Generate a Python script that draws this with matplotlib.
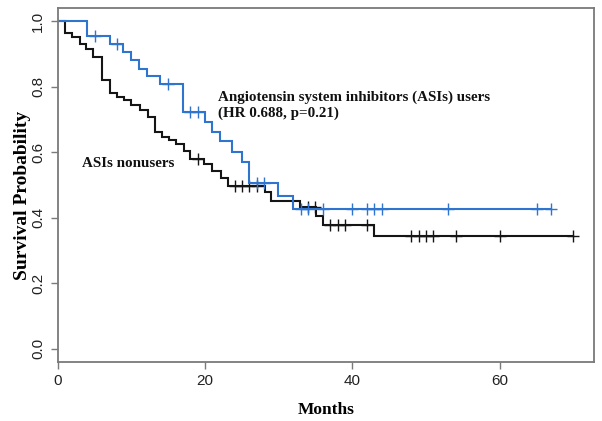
import numpy as np
import matplotlib
matplotlib.use('Agg')
import matplotlib.pyplot as plt

# ASI users (blue)
users_times = [0, 4.0, 7.1, 8.9, 10.0, 11.1, 12.1, 13.9, 17.0, 20.0, 21.0, 22.0, 23.7, 25.0, 26.0, 29.9, 32.0]
users_surv = [1.0, 0.954, 0.932, 0.906, 0.881, 0.856, 0.832, 0.808, 0.724, 0.694, 0.663, 0.633, 0.602, 0.571, 0.505, 0.466, 0.427]
users_censor = [5.0, 8.0, 15.0, 18.0, 19.0, 27.0, 28.0, 33.0, 34.0, 36.0, 40.0, 42.0, 43.0, 44.0, 53.0, 65.0, 67.0]

# ASI nonusers (black)
non_times = [0, 1.0, 1.9, 3.0, 3.8, 4.8, 6.0, 7.1, 8.0, 9.0, 10.0, 11.2, 12.3, 13.2, 14.2, 15.1, 16.1,
             17.1, 18.0, 19.8, 21.0, 22.1, 23.1, 28.1, 29.0, 32.9, 35.0, 36.0, 43.0]
non_surv = [1.0, 0.966, 0.952, 0.932, 0.917, 0.891, 0.82, 0.78, 0.769, 0.759, 0.744, 0.729, 0.708, 0.662,
            0.647, 0.637, 0.625, 0.605, 0.58, 0.563, 0.543, 0.522, 0.497, 0.478, 0.452, 0.432, 0.406, 0.378, 0.345]
non_censor = [19.0, 24.0, 25.0, 26.0, 27.0, 34.0, 34.9, 37.0, 38.0, 39.0, 42.0, 48.0, 49.0, 50.0, 51.0,
              54.0, 60.0, 70.0]

x_ticks = [0, 20, 40, 60]
y_ticks = [0.0, 0.2, 0.4, 0.6, 0.8, 1.0]

label_users = "Angiotensin system inhibitors (ASIs) users\n(HR 0.688, p=0.21)"
label_non = "ASIs nonusers"

BLUE = '#2f74cf'
BLACK = '#151515'
SPINE = '#7a7a7a'

fig = plt.figure(figsize=(6.02, 4.21), dpi=100)
ax = fig.add_axes([0.0959, 0.1409, 0.8908, 0.8394])


def km_draw(times, surv, censor, color):
    t_end = max(max(times), max(censor))
    xs = list(times) + [t_end]
    ys = list(surv) + [surv[-1]]
    ax.step(xs, ys, where='post', color=color, lw=1.5, solid_joinstyle='miter')
    t_arr = np.array(times)
    s_arr = np.array(surv)
    idx = np.searchsorted(t_arr, np.array(censor), side='right') - 1
    ax.plot(censor, s_arr[idx], linestyle='none', marker='+', markersize=9,
            markeredgewidth=1.0, color=color)


km_draw(non_times, non_surv, non_censor, BLACK)
km_draw(users_times, users_surv, users_censor, BLUE)

ax.set_xlim(0, 72.8)
ax.set_ylim(-0.04, 1.04)
ax.set_xticks(x_ticks)
ax.set_xticklabels([str(v) for v in x_ticks])
ax.set_yticks(y_ticks)
ax.set_yticklabels([f"{v:.1f}" for v in y_ticks], rotation=90, va='center')

for s in ax.spines.values():
    s.set_color(SPINE)
    s.set_linewidth(1.3)
ax.tick_params(axis='both', color=SPINE, length=5, width=1.0, labelsize=11,
               labelcolor='#222222', pad=4)
for lab in ax.get_xticklabels() + ax.get_yticklabels():
    lab.set_family('Liberation Sans')

ax.set_xlabel('Months', fontsize=12.5, fontweight='bold', family='Liberation Serif', labelpad=10)
ax.set_ylabel('Survival Probability', fontsize=14, fontweight='bold', family='Liberation Serif')
ax.yaxis.set_label_coords(-0.05, 0.47)

ax.text(21.8, 0.744, label_users, fontsize=10.8, fontweight='bold', family='Liberation Serif',
        ha='left', va='center', color='#111111', linespacing=1.2)
ax.text(3.25, 0.567, label_non, fontsize=10.8, fontweight='bold', family='Liberation Serif',
        ha='left', va='center', color='#111111')

fig.savefig('out.png', dpi=100)
